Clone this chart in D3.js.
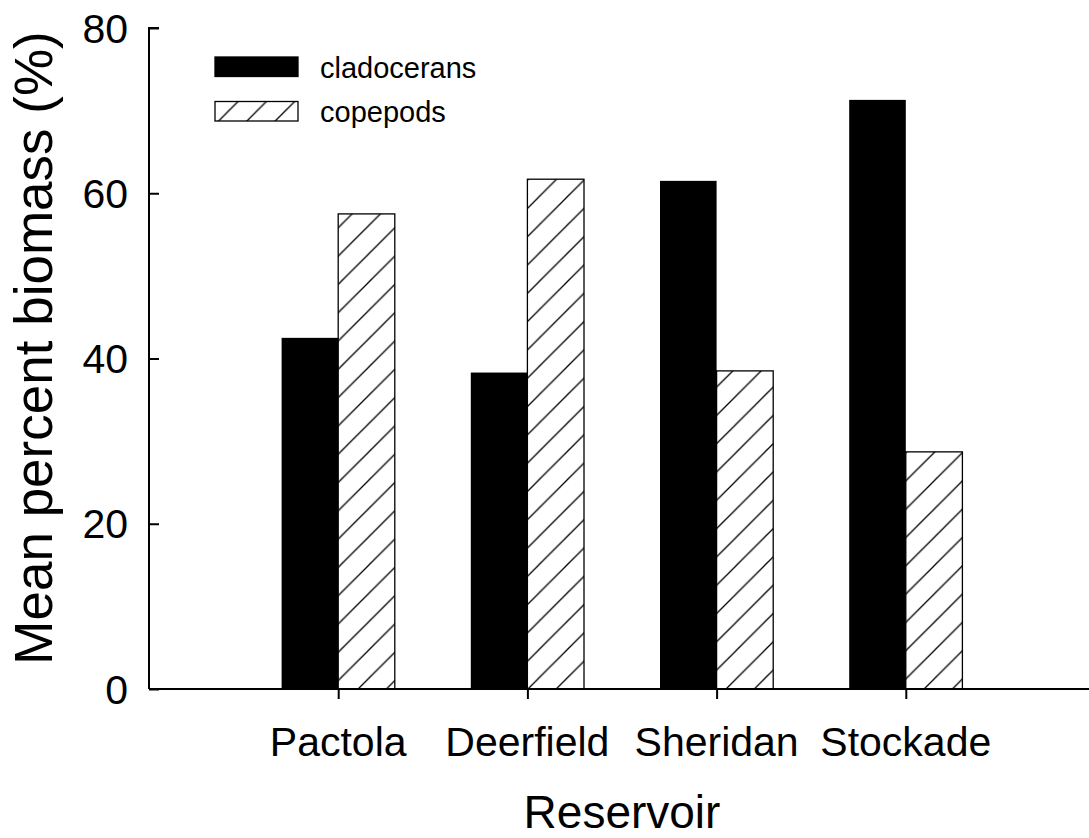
<!DOCTYPE html>
<html lang="en">
<head>
  <meta charset="UTF-8" />
  <title>Mean percent biomass by reservoir</title>
  <script src="https://d3js.org/d3.v7.min.js"></script>
  <style>
    body {
      margin: 0;
      background: #fff;
    }

    svg text {
      font-family: "Liberation Sans", Arial, sans-serif;
      fill: #000;
    }
  </style>
</head>
<body>

<svg id="chart" width="1089" height="838"></svg>

<script>
/* ---------------- DATA ---------------- */

const reservoirs = ["Pactola", "Deerfield", "Sheridan", "Stockade"];
const cladocerans = [42.5, 38.3, 61.5, 71.3];
const copepods = [57.5, 61.7, 38.5, 28.7];
const yTicks = [0, 20, 40, 60, 80];
const seriesNames = ["cladocerans", "copepods"];

/* ---------------- SETUP ---------------- */

const svg = d3.select("#chart");
const plotLeft = 149, plotRight = 1089, plotTop = 28, plotBottom = 689;
const step = 189.2;
const barW = 56.6;

const x = d3.scalePoint()
  .domain(reservoirs)
  .range([plotLeft + step, plotLeft + 4 * step]);

const y = d3.scaleLinear()
  .domain([0, 80])
  .range([plotBottom, plotTop]);

// hatch pattern for copepods
const hatch = svg.append("defs").append("pattern")
  .attr("id", "hatch")
  .attr("patternUnits", "userSpaceOnUse")
  .attr("width", 28.3)
  .attr("height", 28.3);
hatch.append("path")
  .attr("d", "M-7,7 L7,-7 M0,28.3 L28.3,0 M21.3,35.3 L35.3,21.3")
  .attr("stroke", "#000")
  .attr("stroke-width", 1.3);

/* ---------------- BARS ---------------- */

svg.selectAll(".clad")
  .data(cladocerans)
  .enter()
  .append("rect")
  .attr("class", "clad")
  .attr("x", (d, i) => x(reservoirs[i]) - barW)
  .attr("y", d => y(d))
  .attr("width", barW)
  .attr("height", d => y(0) - y(d))
  .attr("fill", "#000");

svg.selectAll(".cope")
  .data(copepods)
  .enter()
  .append("rect")
  .attr("class", "cope")
  .attr("x", (d, i) => x(reservoirs[i]))
  .attr("y", d => y(d))
  .attr("width", barW)
  .attr("height", d => y(0) - y(d))
  .attr("fill", "url(#hatch)")
  .attr("stroke", "#000")
  .attr("stroke-width", 1.3);

/* ---------------- AXES ---------------- */

const yAxis = svg.append("g")
  .attr("transform", `translate(${plotLeft},0)`)
  .call(d3.axisRight(y).tickValues(yTicks).tickSize(10).tickFormat(""));
yAxis.select(".domain").attr("d", `M10,${plotTop}H0V${plotBottom}`);

svg.selectAll(".ylab")
  .data(yTicks)
  .enter()
  .append("text")
  .attr("class", "ylab")
  .attr("x", plotLeft - 21)
  .attr("y", d => y(d) + 14.5)
  .attr("text-anchor", "end")
  .attr("font-size", 41)
  .text(d => d);

const xAxis = svg.append("g")
  .attr("transform", `translate(0,${plotBottom})`)
  .call(d3.axisBottom(x).tickSize(10).tickFormat(""));
xAxis.select(".domain").attr("d", `M${plotLeft},0H${plotRight}`);

svg.selectAll(".xlab")
  .data(reservoirs)
  .enter()
  .append("text")
  .attr("class", "xlab")
  .attr("x", d => x(d))
  .attr("y", 756)
  .attr("text-anchor", "middle")
  .attr("font-size", 41)
  .text(d => d);

svg.selectAll(".domain, .tick line")
  .attr("stroke", "#000")
  .attr("stroke-width", 2);

/* ---------------- TITLES ---------------- */

svg.append("text")
  .attr("x", 622)
  .attr("y", 828)
  .attr("text-anchor", "middle")
  .attr("font-size", 46)
  .text("Reservoir");

svg.append("text")
  .attr("transform", `translate(52,348) rotate(-90)`)
  .attr("text-anchor", "middle")
  .attr("font-size", 53)
  .text("Mean percent biomass (%)");

/* ---------------- LEGEND ---------------- */

const legend = svg.append("g");
legend.selectAll("rect")
  .data(seriesNames)
  .enter()
  .append("rect")
  .attr("x", 215)
  .attr("y", (d, i) => 57 + i * 44.5)
  .attr("width", 83)
  .attr("height", 19.5)
  .attr("fill", (d, i) => i === 0 ? "#000" : "url(#hatch)")
  .attr("stroke", "#000")
  .attr("stroke-width", 1.3);

legend.selectAll("text")
  .data(seriesNames)
  .enter()
  .append("text")
  .attr("x", 320)
  .attr("y", (d, i) => 77.5 + i * 44.5)
  .attr("font-size", 29)
  .text(d => d);
</script>

</body>
</html>
